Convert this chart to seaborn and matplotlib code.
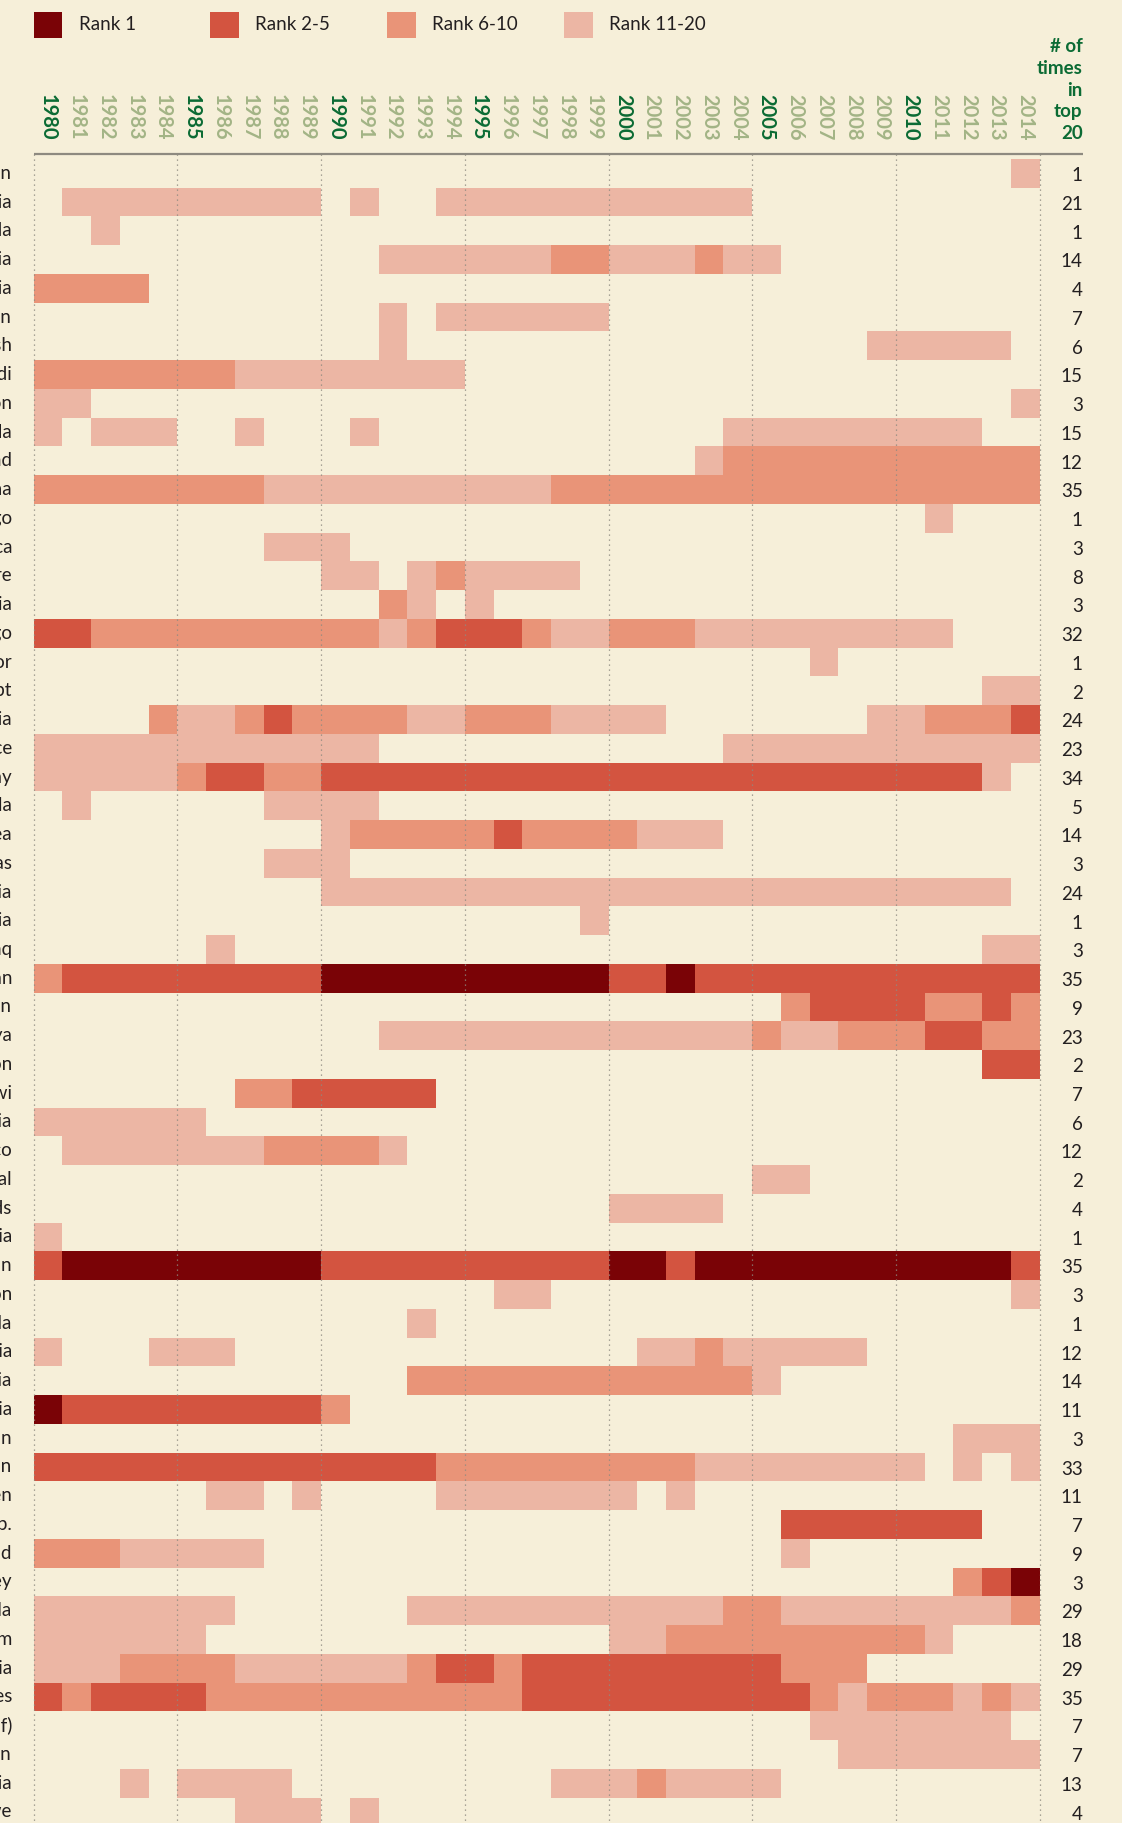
import numpy as np
import pandas as pd
import matplotlib
matplotlib.use("Agg")
import matplotlib.pyplot as plt
import seaborn as sns
from matplotlib.colors import ListedColormap
from matplotlib.patches import Rectangle

W, H = 1122, 1823

years = list(range(1980, 2015))
tiers = ["Rank 1", "Rank 2-5", "Rank 6-10", "Rank 11-20"]
tier_colors = ["#7a0306", "#d35440", "#e99478", "#ecb6a4"]

countries = [
    "Afghanistan", "Algeria", "Angola", "Armenia", "Australia", "Azerbaijan",
    "Bangladesh", "Burundi", "Cameroon", "Canada", "Chad", "China", "Congo",
    "Costa Rica", "Côte d'Ivoire", "Croatia", "Dem. Rep. of the Congo",
    "Ecuador", "Egypt", "Ethiopia", "France", "Germany", "Guatemala", "Guinea",
    "Honduras", "India", "Indonesia", "Iraq", "Islamic Rep. of Iran", "Jordan",
    "Kenya", "Lebanon", "Malawi", "Malaysia", "Mexico", "Nepal", "Netherlands",
    "Nigeria", "Pakistan", "Russian Federation", "Rwanda", "Saudi Arabia",
    "Serbia", "Somalia", "South Sudan", "Sudan", "Sweden", "Syrian Arab Rep.",
    "Thailand", "Turkey", "Uganda", "United Kingdom", "United Rep. of Tanzania",
    "United States", "Venezuela (Bolivarian Rep. of)", "Yemen", "Zambia",
    "Zimbabwe",
]

# one character per year, 1980..2014, in blocks of five years
# 1 = Rank 1, 2 = Rank 2-5, 3 = Rank 6-10, 4 = Rank 11-20, . = not in top 20
ranks = [
    "..... ..... ..... ..... ..... ..... ....4",
    ".4444 44444 .4..4 44444 44444 ..... .....",
    "..4.. ..... ..... ..... ..... ..... .....",
    "..... ..... ..444 44433 44434 4.... .....",
    "3333. ..... ..... ..... ..... ..... .....",
    "..... ..... ..4.4 44444 ..... ..... .....",
    "..... ..... ..4.. ..... ..... ....4 4444.",
    "33333 33444 44444 ..... ..... ..... .....",
    "44... ..... ..... ..... ..... ..... ....4",
    "4.444 ..4.. .4... ..... ....4 44444 444..",
    "..... ..... ..... ..... ...43 33333 33333",
    "33333 33344 44444 44433 33333 33333 33333",
    "..... ..... ..... ..... ..... ..... .4...",
    "..... ...44 4.... ..... ..... ..... .....",
    "..... ..... 44.43 4444. ..... ..... .....",
    "..... ..... ..34. 4.... ..... ..... .....",
    "22333 33333 33432 22344 33344 44444 44...",
    "..... ..... ..... ..... ..... ..4.. .....",
    "..... ..... ..... ..... ..... ..... ...44",
    "....3 44323 33344 33344 44... ....4 43332",
    "44444 44444 44... ..... ....4 44444 44444",
    "44444 32233 22222 22222 22222 22222 2224.",
    ".4... ...44 44... ..... ..... ..... .....",
    "..... ..... 43333 32333 3444. ..... .....",
    "..... ...44 4.... ..... ..... ..... .....",
    "..... ..... 44444 44444 44444 44444 4444.",
    "..... ..... ..... ....4 ..... ..... .....",
    "..... .4... ..... ..... ..... ..... ...44",
    "32222 22222 11111 11111 22122 22222 22222",
    "..... ..... ..... ..... ..... .3222 23323",
    "..... ..... ..444 44444 44444 34433 32233",
    "..... ..... ..... ..... ..... ..... ...22",
    "..... ..332 2222. ..... ..... ..... .....",
    "44444 4.... ..... ..... ..... ..... .....",
    ".4444 44433 334.. ..... ..... ..... .....",
    "..... ..... ..... ..... ..... 44... .....",
    "..... ..... ..... ..... 4444. ..... .....",
    "4.... ..... ..... ..... ..... ..... .....",
    "21111 11111 22222 22222 11211 11111 11112",
    "..... ..... ..... .44.. ..... ..... ....4",
    "..... ..... ...4. ..... ..... ..... .....",
    "4...4 44... ..... ..... .4434 4444. .....",
    "..... ..... ...33 33333 33333 4.... .....",
    "12222 22222 3.... ..... ..... ..... .....",
    "..... ..... ..... ..... ..... ..... ..444",
    "22222 22222 22223 33333 33344 44444 4.4.4",
    "..... .44.4 ....4 44444 4.4.. ..... .....",
    "..... ..... ..... ..... ..... .2222 222..",
    "33344 444.. ..... ..... ..... .4... .....",
    "..... ..... ..... ..... ..... ..... ..321",
    "44444 44... ...44 44444 44443 34444 44443",
    "44444 4.... ..... ..... 44333 33333 34...",
    "44433 33444 44432 23222 22222 2333. .....",
    "23222 23333 33333 33222 22222 22343 33434",
    "..... ..... ..... ..... ..... ..444 4444.",
    "..... ..... ..... ..... ..... ...44 44444",
    "...4. 4444. ..... ...44 43444 4.... .....",
    "..... ..444 .4... ..... ..... ..... .....",
]

counts = [1, 21, 1, 14, 4, 7, 6, 15, 3, 15, 12, 35, 1, 3, 8, 3, 32, 1, 2, 24,
          23, 34, 5, 14, 3, 24, 1, 3, 35, 9, 23, 2, 7, 6, 12, 2, 4, 1, 35, 3,
          1, 12, 14, 11, 3, 33, 11, 7, 9, 3, 29, 18, 29, 35, 7, 7, 13, 4]

bg = "#f6efd9"
text_dark = "#231f20"
green_dark = "#0b6b34"
green_light = "#a3b486"
grid_grey = "#8e8a80"

grid = np.array([[0 if ch == "." else int(ch) for ch in r.replace(" ", "")]
                 for r in ranks])
df = pd.DataFrame(grid, index=countries, columns=years)

plt.rcParams["font.family"] = ["Lato", "DejaVu Sans"]

fig = plt.figure(figsize=(W / 100, H / 100), dpi=100, facecolor=bg)

left = 33.6
cell = (1039.7 - left) / 35
top = 159
nrow = len(countries)
ax = fig.add_axes([left / W, 1 - (top + nrow * cell) / H,
                   35 * cell / W, nrow * cell / H])
ax.set_facecolor(bg)

sns.heatmap(df, ax=ax, cmap=ListedColormap([bg] + tier_colors),
            vmin=-0.5, vmax=4.5, cbar=False,
            xticklabels=True, yticklabels=True)
ax.set_xlabel("")
ax.set_ylabel("")
for s in ax.spines.values():
    s.set_visible(False)

# year labels on top
ax.xaxis.tick_top()
ax.tick_params(axis="x", length=0, pad=13.5)
for lab, yr in zip(ax.get_xticklabels(), years):
    lab.set_rotation(270)
    lab.set_ha("center")
    lab.set_va("bottom")
    lab.set_fontsize(14.5)
    lab.set_fontweight("bold")
    lab.set_color(green_dark if yr % 5 == 0 else green_light)

# country labels (cut by the figure edge, as in the original)
ax.tick_params(axis="y", length=0, pad=15.5, labelsize=13.5, labelcolor=text_dark)
plt.setp(ax.get_yticklabels(), rotation=0)

# dotted guides every five years + rule under the header
y_rule = -5 / cell
ax.vlines(np.arange(0, 36, 5), y_rule, nrow, colors=grid_grey,
          linestyles=(0, (1, 3)), linewidth=0.9, clip_on=False, zorder=3)
cnt_x = 35 + (1082.6 - 1039.7) / cell
ax.plot([0, cnt_x], [y_rule, y_rule], color=grid_grey, lw=1.6,
        clip_on=False, solid_capstyle="butt", zorder=3)

# count column
for i, c in enumerate(counts):
    ax.text(cnt_x, i + 0.77, str(c), ha="right", va="baseline",
            fontsize=13.5, color=text_dark, clip_on=False)

# header of the count column
for k, word in enumerate(["# of", "times", "in", "top", "20"]):
    fig.text(1082.6 / W, 1 - (52.5 + 21.65 * k) / H, word, ha="right",
             va="baseline", fontsize=13.5, fontweight="bold", color=green_dark)

# legend
for k, (name, col) in enumerate(zip(tiers, tier_colors)):
    x0 = 33.6 + 176.8 * k
    fig.add_artist(Rectangle((x0 / W, 1 - 38.4 / H), 28.7 / W, 26.8 / H,
                             transform=fig.transFigure, color=col, lw=0))
    fig.text((x0 + 45) / W, 1 - 25 / H, name, ha="left", va="center",
             fontsize=13.5, color=text_dark)

fig.savefig("out.png", dpi=100, facecolor=bg)
